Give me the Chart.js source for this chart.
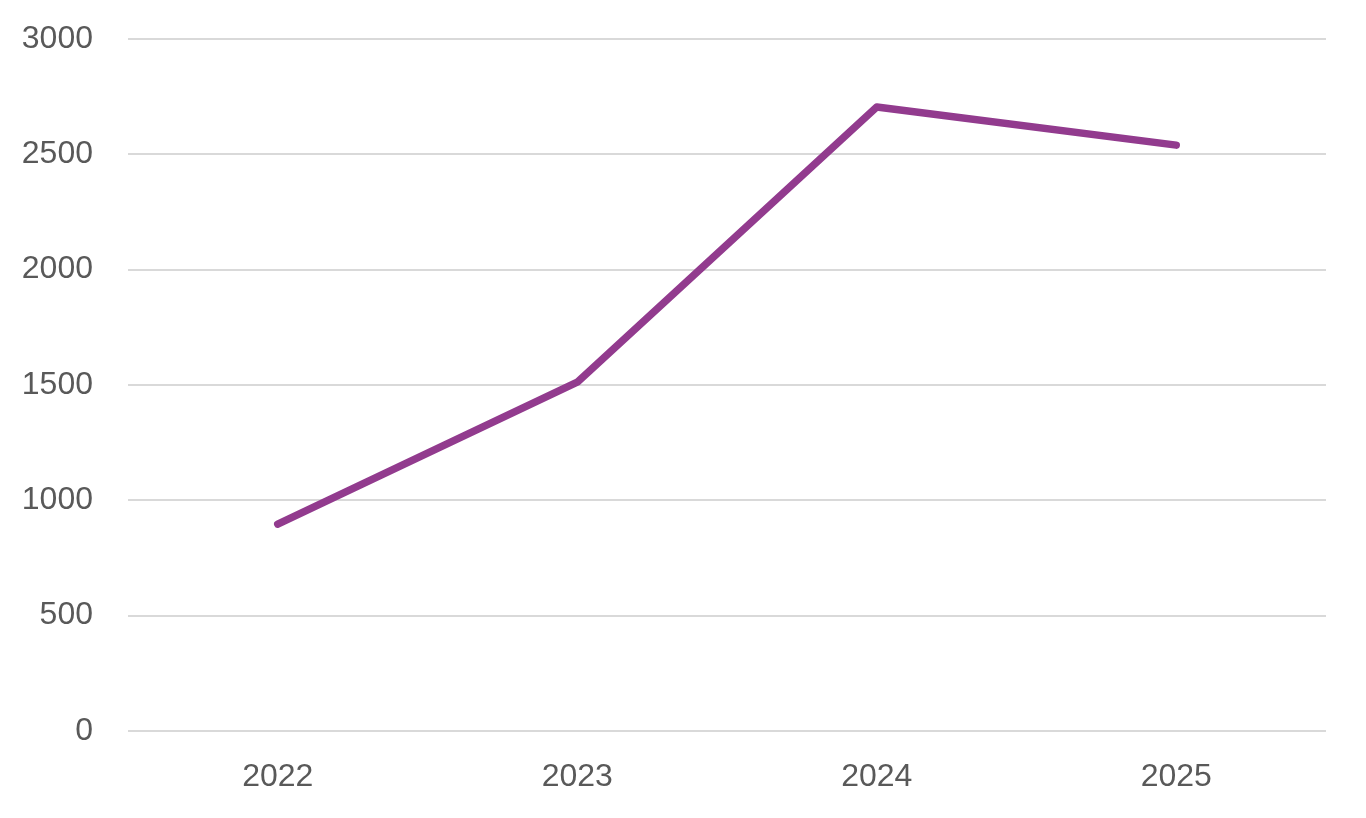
<!DOCTYPE html>
<html lang="en">
<head>
  <meta charset="UTF-8">
  <title>Line chart</title>
  <style>
    html, body { margin: 0; padding: 0; background: #fff; }
    .chart-box { width: 1366px; height: 818px; }
  </style>
</head>
<body>
  <div class="chart-box">
    <canvas id="lineChart"></canvas>
  </div>
  <script src="https://cdn.jsdelivr.net/npm/chart.js"></script>
  <script>
    // chart data
    const years = ['2022', '2023', '2024', '2025'];
    const values = [897, 1512, 2705, 2540];
    const yTicks = [0, 500, 1000, 1500, 2000, 2500, 3000];

    const ctx = document.getElementById('lineChart').getContext('2d');
    const lineChart = new Chart(ctx, {
      type: 'line',
      data: {
        labels: years,
        datasets: [{
          label: 'Value',
          data: values,
          borderColor: '#923B8E',
          borderWidth: 7.5,
          borderCapStyle: 'round',
          borderJoinStyle: 'round',
          pointRadius: 0,
          fill: false,
          tension: 0
        }]
      },
      options: {
        responsive: true,
        maintainAspectRatio: false,
        animation: false,
        layout: { padding: { top: 39, right: 40, left: 0, bottom: 0 } },
        scales: {
          x: {
            offset: true,
            grid: { display: false },
            border: { display: false },
            ticks: {
              color: '#595959',
              font: { family: 'Liberation Sans', size: 32 },
              padding: 19
            },
            afterFit: function (scale) { scale.height = 87; }
          },
          y: {
            min: 0,
            max: 3000,
            afterBuildTicks: function (scale) {
              scale.ticks = yTicks.map(v => ({ value: v }));
            },
            grid: { color: '#d9d9d9', lineWidth: 2, drawTicks: false },
            border: { display: false },
            ticks: {
              color: '#595959',
              font: { family: 'Liberation Sans', size: 32 },
              padding: 35,
              callback: function (value) { return String(value); }
            },
            afterFit: function (scale) {
              scale.width = 128;
              scale.paddingTop = 0;
              scale.paddingBottom = 0;
            }
          }
        },
        plugins: {
          legend: { display: false },
          tooltip: { enabled: false }
        }
      }
    });
  </script>
</body>
</html>
